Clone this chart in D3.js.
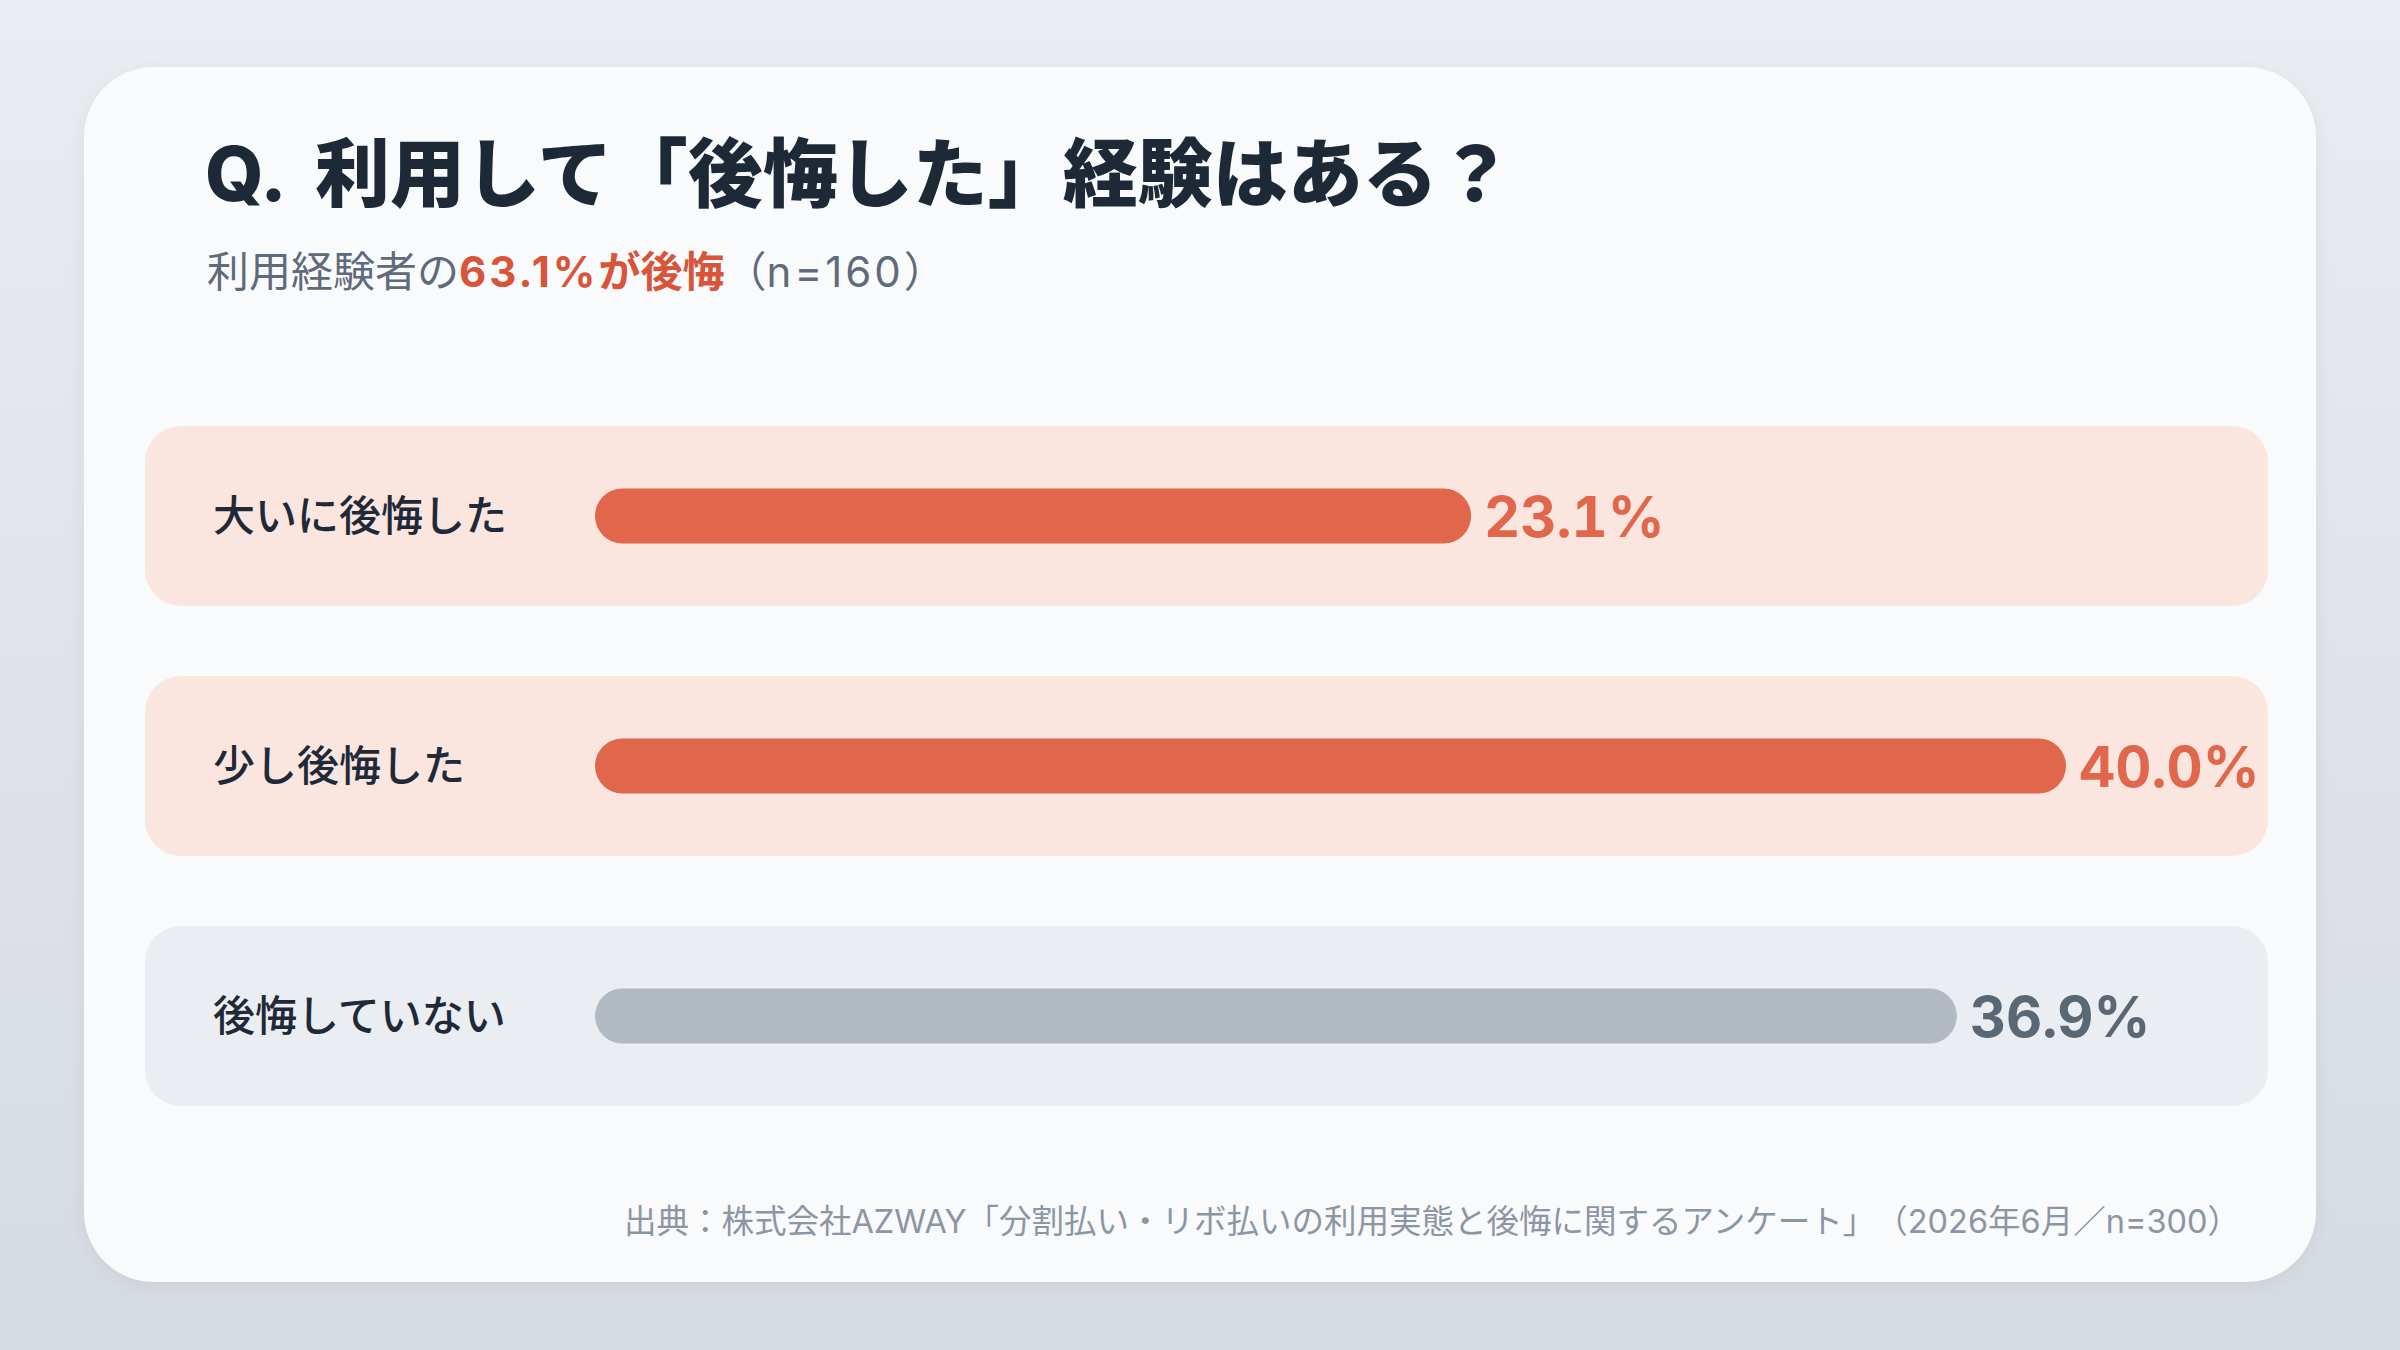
<!DOCTYPE html>
<html lang="ja">
<head>
<meta charset="utf-8">
<script src="https://cdn.jsdelivr.net/npm/d3@7"></script>
<style>
  html, body { margin: 0; padding: 0; }
  body { width: 2400px; height: 1350px; overflow: hidden; }
  svg { text-spacing-trim: space-all; }
  text { font-family: Inter, "Noto Sans CJK JP", sans-serif; text-spacing-trim: space-all; }
  .num { font-variant-numeric: tabular-nums; }
</style>
</head>
<body>
<svg id="chart"></svg>
<script>
// survey answers and shares (%)
var categories = ["大いに後悔した", "少し後悔した", "後悔していない"];
var values = [23.1, 40.0, 36.9];
var regret = [true, true, false];

var titleParts = ["Q.", "利用して「後悔した」経験はある？"];
var subtitleParts = ["利用経験者の", "63.1%", "が後悔", "（", "n=160", "）"];
var sourceText = "出典：株式会社AZWAY「分割払い・リボ払いの利用実態と後悔に関するアンケート」（2026年6月／n=300）";

var W = 2400, H = 1350;
var svg = d3.select("#chart").attr("width", W).attr("height", H);

// page background
var defs = svg.append("defs");
var bg = defs.append("linearGradient").attr("id", "bg")
    .attr("x1", 0).attr("y1", 0).attr("x2", 0).attr("y2", 1);
bg.append("stop").attr("offset", "0%").attr("stop-color", "#e9ecf0");
bg.append("stop").attr("offset", "100%").attr("stop-color", "#d6dbe2");

var shadow = defs.append("filter").attr("id", "shadow")
    .attr("x", "-5%").attr("y", "-5%").attr("width", "110%").attr("height", "115%");
shadow.append("feDropShadow").attr("dx", 0).attr("dy", 4).attr("stdDeviation", 8)
    .attr("flood-color", "#1e2937").attr("flood-opacity", 0.06);

svg.append("rect").attr("width", W).attr("height", H).attr("fill", "url(#bg)");

// card
svg.append("rect")
    .attr("x", 84).attr("y", 67)
    .attr("width", 2232).attr("height", 1215)
    .attr("rx", 70)
    .attr("fill", "#f8fafc")
    .attr("filter", "url(#shadow)");

// title + subtitle
var title = svg.append("text")
    .attr("y", 201)
    .attr("font-size", 75).attr("font-weight", 800)
    .attr("fill", "#1e2937");
title.append("tspan").attr("x", 205).text(titleParts[0]);
title.append("tspan").attr("x", 315).text(titleParts[1]);

var sub = svg.append("text")
    .attr("x", 207).attr("y", 287)
    .attr("font-size", 42)
    .attr("fill", "#5f6b7a");
sub.append("tspan").text(subtitleParts[0]);
sub.append("tspan").attr("fill", "#d9553a").attr("font-weight", 700)
    .attr("letter-spacing", 3).text(subtitleParts[1]);
sub.append("tspan").attr("fill", "#d9553a").attr("font-weight", 700).text(subtitleParts[2]);
sub.append("tspan").text(subtitleParts[3]);
sub.append("tspan").attr("letter-spacing", 3).text(subtitleParts[4]);
sub.append("tspan").text(subtitleParts[5]);

// rows
var rowLeft = 145, rowRight = 2268;
var barStart = 595, barH = 55;

var y = d3.scaleBand()
    .domain(categories)
    .range([426, 1106])
    .paddingInner(0.28)
    .paddingOuter(0);

// pill cap offset: bars start at barStart, value 0 sits a cap further in
var x = d3.scaleLinear()
    .domain([0, 40])
    .range([barStart + 63, 2066]);

var rows = svg.selectAll(".row")
    .data(categories)
    .enter()
    .append("g")
    .attr("class", "row")
    .attr("transform", function (d) {
        return "translate(0," + y(d) + ")";
    });

rows.append("rect")
    .attr("x", rowLeft)
    .attr("width", rowRight - rowLeft)
    .attr("height", y.bandwidth())
    .attr("rx", 36)
    .attr("fill", function (d, i) {
        return regret[i] ? "#fae6df" : "#eaedf1";
    });

rows.append("text")
    .attr("x", 213)
    .attr("y", y.bandwidth() / 2)
    .attr("dy", "0.36em")
    .attr("font-size", 42)
    .attr("font-weight", 500)
    .attr("fill", "#1f2937")
    .text(function (d) { return d; });

rows.append("rect")
    .attr("x", barStart)
    .attr("y", y.bandwidth() / 2 - barH / 2)
    .attr("width", function (d, i) { return x(values[i]) - barStart; })
    .attr("height", barH)
    .attr("rx", barH / 2)
    .attr("fill", function (d, i) {
        return regret[i] ? "#e0674b" : "#b1b9c3";
    });

rows.append("text")
    .attr("class", "num")
    .attr("x", function (d, i) { return x(values[i]) + 13; })
    .attr("y", y.bandwidth() / 2)
    .attr("dy", "0.37em")
    .attr("font-size", 56)
    .attr("font-weight", 700)
    .attr("fill", function (d, i) {
        return regret[i] ? "#e0674b" : "#5a6775";
    })
    .text(function (d, i) { return values[i].toFixed(1) + "%"; });

// source
svg.append("text")
    .attr("x", 2240).attr("y", 1233)
    .attr("text-anchor", "end")
    .attr("font-size", 32.5)
    .attr("fill", "#8c96a3")
    .text(sourceText);
</script>
</body>
</html>
